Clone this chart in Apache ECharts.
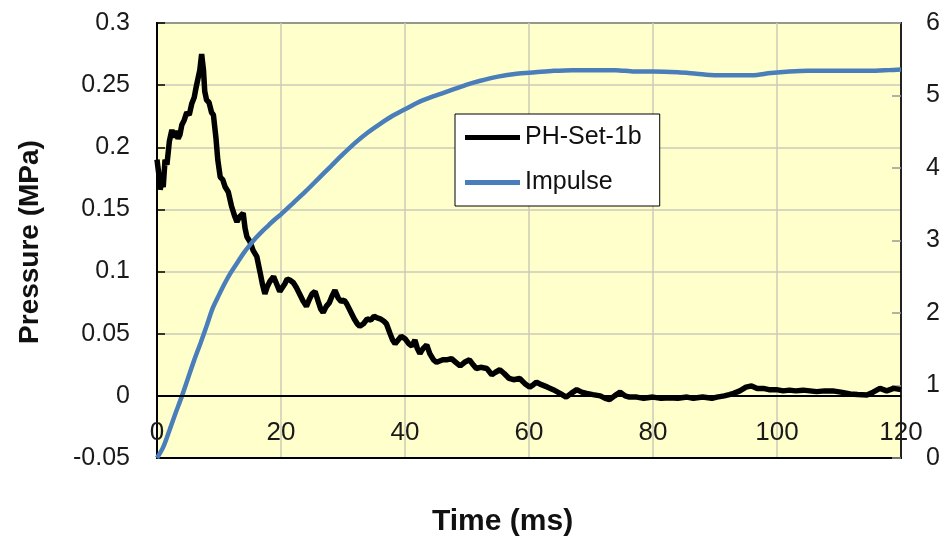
<!DOCTYPE html>
<html>
<head>
<meta charset="utf-8">
<script src="https://cdn.jsdelivr.net/npm/echarts@6/dist/echarts.min.js"></script>
<style>
html,body{margin:0;padding:0;background:#fff;}
#chart{width:946px;height:538px;}
</style>
</head>
<body>
<div id="chart"></div>
<script>
// ---- Data ----
var xTicks = [0, 20, 40, 60, 80, 100, 120];
var leftTicks = [-0.05, 0, 0.05, 0.1, 0.15, 0.2, 0.25, 0.3];
var rightTicks = [0, 1, 2, 3, 4, 5, 6];

var pressureTime = [0.0,0.3,0.5,0.8,1.0,1.3,1.6,2.0,2.4,2.7,3.0,3.4,3.7,4.0,4.4,4.8,5.2,5.6,6.0,6.3,6.6,6.9,7.2,7.5,7.7,8.0,8.4,8.8,9.1,9.5,9.8,10.2,10.6,11.0,11.5,12.0,12.5,12.9,13.3,13.9,14.2,14.5,15.0,15.5,16.1,16.6,17.0,17.4,17.8,18.2,18.8,19.3,19.8,20.1,20.6,21.0,21.5,22.0,22.5,23.0,23.6,24.1,24.6,25.0,25.5,26.0,26.4,26.8,27.3,27.8,28.2,28.7,29.2,29.7,30.2,30.6,31.2,31.8,32.3,32.7,33.3,33.9,34.5,35.0,35.4,36.0,36.6,37.0,37.6,38.0,38.4,38.9,39.4,40.0,40.6,41.1,41.6,42.0,42.4,42.9,43.5,44.0,44.6,45.1,45.6,46.1,46.7,47.5,48.2,48.9,49.6,50.4,51.0,51.5,52.2,53.2,54.0,54.6,55.3,56.0,56.8,57.5,58.5,59.3,60.1,60.7,61.2,62.0,63.0,63.9,65.0,66.0,66.8,67.7,68.5,69.3,70.3,71.5,72.3,73.0,73.8,74.7,75.5,76.2,77.4,78.5,80.0,81.3,82.7,84.0,85.5,86.5,88.0,89.5,90.3,91.5,92.3,93.0,94.0,95.0,95.9,96.8,97.8,98.7,99.9,101.0,102.0,103.0,104.2,105.3,106.4,107.7,109.0,110.3,111.8,113.0,114.5,115.5,116.6,117.7,118.8,120.0];
var pressureValues = [0.190,0.178,0.166,0.172,0.168,0.190,0.186,0.205,0.214,0.208,0.213,0.207,0.210,0.218,0.222,0.228,0.226,0.235,0.240,0.248,0.255,0.262,0.275,0.262,0.245,0.238,0.236,0.228,0.226,0.208,0.190,0.176,0.174,0.168,0.164,0.153,0.145,0.140,0.144,0.147,0.135,0.128,0.124,0.117,0.112,0.100,0.090,0.082,0.088,0.092,0.096,0.090,0.084,0.083,0.090,0.094,0.093,0.091,0.087,0.082,0.076,0.072,0.078,0.082,0.084,0.076,0.070,0.067,0.072,0.075,0.080,0.085,0.079,0.076,0.077,0.074,0.068,0.062,0.058,0.056,0.058,0.062,0.061,0.064,0.063,0.062,0.060,0.058,0.050,0.045,0.042,0.045,0.048,0.046,0.042,0.040,0.045,0.038,0.034,0.038,0.041,0.034,0.029,0.027,0.028,0.029,0.029,0.030,0.027,0.024,0.027,0.029,0.025,0.022,0.023,0.022,0.017,0.019,0.021,0.018,0.014,0.013,0.014,0.010,0.007,0.009,0.011,0.009,0.007,0.005,0.002,-0.001,0.002,0.005,0.003,0.002,0.001,0.000,-0.002,-0.003,0.000,0.003,0.000,-0.001,-0.001,-0.002,-0.001,-0.002,-0.0015,-0.002,-0.001,-0.002,-0.001,-0.002,-0.001,0.000,0.001,0.002,0.004,0.007,0.008,0.006,0.006,0.005,0.005,0.004,0.0046,0.004,0.0046,0.004,0.0034,0.004,0.004,0.003,0.0015,0.001,0.0007,0.003,0.006,0.004,0.006,0.005];

var impulseTime = [0,1,2,3,4,5,6,7,8,9,10,11,12,13,14,15,16,17,18,19,20,22,24,26,28,30,32,34,36,38,40,42,44,46,48,50,52,55,58,61,64,67,70,74,77,80,84,87,90,93,96,99,102,105,110,115,118,120];
var impulseValues = [0,0.15,0.38,0.62,0.85,1.10,1.35,1.58,1.82,2.07,2.25,2.42,2.57,2.70,2.83,2.94,3.04,3.13,3.21,3.29,3.36,3.52,3.68,3.85,4.02,4.19,4.35,4.49,4.61,4.72,4.81,4.90,4.97,5.03,5.09,5.15,5.20,5.26,5.30,5.32,5.34,5.35,5.35,5.35,5.33,5.33,5.32,5.30,5.28,5.28,5.28,5.31,5.33,5.34,5.34,5.34,5.35,5.36];

var seriesNames = ['PH-Set-1b', 'Impulse'];
var xTitle = 'Time (ms)';
var yTitle = 'Pressure (MPa)';

// ---- Build ----
function pairs(xs, ys){ var out=[]; for(var i=0;i<xs.length;i++){ out.push([xs[i], ys[i]]); } return out; }
var FONT = '"Liberation Sans", Arial, sans-serif';
var chart = echarts.init(document.getElementById('chart'), null, {renderer:'canvas'});
chart.setOption({
  animation: false,
  backgroundColor: '#ffffff',
  grid: {left:157, top:23, right:45, bottom:80, show:true, backgroundColor:'#FFFFCC', borderColor:'#000', borderWidth:2},
  legend: {
    data: seriesNames,
    left: 455, top: 114,
    orient: 'vertical',
    icon: 'rect',
    itemWidth: 55, itemHeight: 5,
    itemGap: 20,
    padding: [11, 18, 11, 10],
    backgroundColor: '#ffffff',
    borderColor: '#000', borderWidth: 1,
    textStyle: {fontFamily: FONT, fontSize: 25, color: '#111'}
  },
  xAxis: {
    type: 'value', min: xTicks[0], max: xTicks[xTicks.length-1], interval: 20,
    axisLine: {show:true, onZero:false, lineStyle:{color:'#000', width:2}},
    axisTick: {show:false},
    axisLabel: {fontFamily: FONT, fontSize: 26, color:'#1a1a1a', margin: -38, showMinLabel:true, showMaxLabel:true},
    splitLine: {show:true, lineStyle:{color:'#CBCBB8', width:1.5}}
  },
  yAxis: [{
    type: 'value', min: leftTicks[0], max: leftTicks[leftTicks.length-1], interval: 0.05,
    axisLine: {show:true, lineStyle:{color:'#000', width:2}},
    axisTick: {show:true, inside:true, length:8, lineStyle:{color:'#000', width:1.5}},
    axisLabel: {fontFamily: FONT, fontSize: 25, color:'#1a1a1a', margin: 27,
      formatter: function(v){ return String(Math.round(v*100)/100); }},
    splitLine: {show:true, lineStyle:{color:'#CBCBB8', width:1.5}}
  },{
    type: 'value', min: rightTicks[0], max: rightTicks[rightTicks.length-1], interval: 1, position:'right',
    axisLine: {show:true, lineStyle:{color:'#222', width:2}},
    axisTick: {show:true, inside:true, length:9, lineStyle:{color:'#999', width:1.5}},
    axisLabel: {fontFamily: FONT, fontSize: 25, color:'#1a1a1a', margin: 25},
    splitLine: {show:false}
  }],
  graphic: [
    {type:'text', left: 432, top: 507, style:{text: xTitle, font: 'bold 30px ' + FONT, fill:'#111'}},
    {type:'text', x: 30, y: 242, rotation: Math.PI/2, style:{text: yTitle, font: 'bold 28px ' + FONT, fill:'#111', textAlign:'center', textVerticalAlign:'middle'}}
  ],
  series: [{
    name: seriesNames[0], type:'line', yAxisIndex:0, showSymbol:false, symbol:'none',
    data: pairs(pressureTime, pressureValues),
    lineStyle:{color:'#000', width:5.5}, itemStyle:{color:'#000'}, z: 3,
    markLine: {silent:true, symbol:'none', label:{show:false}, animation:false,
      lineStyle:{color:'#000', width:2, type:'solid'}, data:[{yAxis:0}]}
  },{
    name: seriesNames[1], type:'line', yAxisIndex:1, showSymbol:false, symbol:'none', smooth: 0.3,
    data: pairs(impulseTime, impulseValues),
    lineStyle:{color:'#4A7EBB', width:4.5}, itemStyle:{color:'#4A7EBB'}, z: 4
  }]
});
</script>
</body>
</html>
